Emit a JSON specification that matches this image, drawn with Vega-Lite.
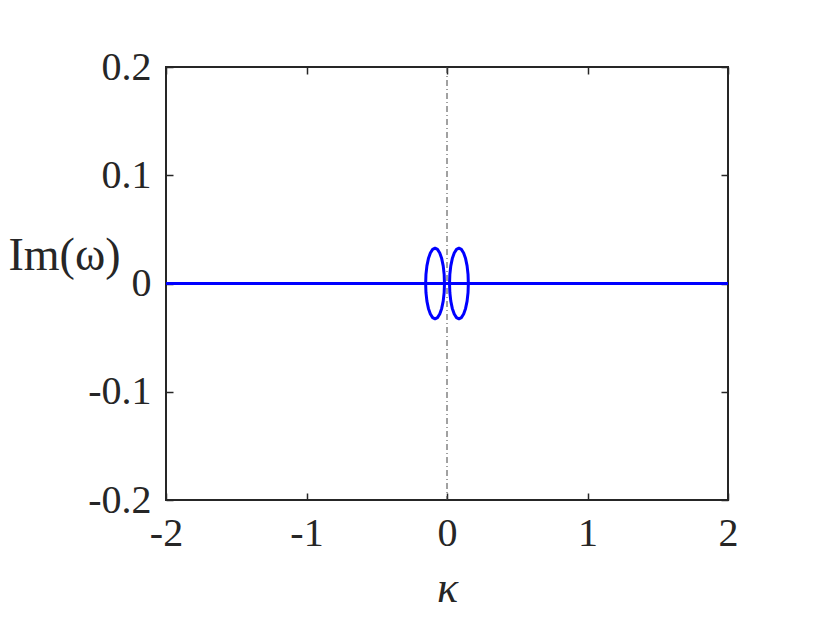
{
  "$schema": "https://vega.github.io/schema/vega-lite/v6.json",
  "autosize": {"type": "none"},
  "width": 562,
  "height": 433,
  "padding": {"left": 166, "top": 67, "right": 102, "bottom": 124},
  "background": "white",
  "config": {
    "view": {"stroke": "#262626", "strokeWidth": 2},
    "axis": {
      "grid": false,
      "domain": false,
      "tickColor": "#262626",
      "tickWidth": 1.5,
      "tickSize": -7,
      "labelFlush": false,
      "labelFont": "Liberation Serif",
      "labelFontSize": 40,
      "labelColor": "#262626",
      "titleFont": "Liberation Serif",
      "titleFontWeight": "normal",
      "titleColor": "#262626"
    }
  },
  "datasets": {
    "curves": [
      {"s": "h", "o": 0, "k": -2, "w": 0},
      {"s": "h", "o": 1, "k": 2, "w": 0},
      {"s": "e1", "o": 0, "k": -0.018, "w": 0},
      {"s": "e1", "o": 1, "k": -0.0203, "w": 0.0085},
      {"s": "e1", "o": 2, "k": -0.027, "w": 0.0163},
      {"s": "e1", "o": 3, "k": -0.0377, "w": 0.023},
      {"s": "e1", "o": 4, "k": -0.0515, "w": 0.0282},
      {"s": "e1", "o": 5, "k": -0.0677, "w": 0.0315},
      {"s": "e1", "o": 6, "k": -0.085, "w": 0.0326},
      {"s": "e1", "o": 7, "k": -0.1023, "w": 0.0315},
      {"s": "e1", "o": 8, "k": -0.1185, "w": 0.0282},
      {"s": "e1", "o": 9, "k": -0.1323, "w": 0.023},
      {"s": "e1", "o": 10, "k": -0.143, "w": 0.0163},
      {"s": "e1", "o": 11, "k": -0.1497, "w": 0.0085},
      {"s": "e1", "o": 12, "k": -0.152, "w": 0},
      {"s": "e1", "o": 13, "k": -0.1497, "w": -0.0085},
      {"s": "e1", "o": 14, "k": -0.143, "w": -0.0163},
      {"s": "e1", "o": 15, "k": -0.1323, "w": -0.023},
      {"s": "e1", "o": 16, "k": -0.1185, "w": -0.0282},
      {"s": "e1", "o": 17, "k": -0.1023, "w": -0.0315},
      {"s": "e1", "o": 18, "k": -0.085, "w": -0.0326},
      {"s": "e1", "o": 19, "k": -0.0677, "w": -0.0315},
      {"s": "e1", "o": 20, "k": -0.0515, "w": -0.0282},
      {"s": "e1", "o": 21, "k": -0.0377, "w": -0.023},
      {"s": "e1", "o": 22, "k": -0.027, "w": -0.0163},
      {"s": "e1", "o": 23, "k": -0.0203, "w": -0.0085},
      {"s": "e1", "o": 24, "k": -0.018, "w": 0},
      {"s": "e2", "o": 0, "k": 0.018, "w": 0},
      {"s": "e2", "o": 1, "k": 0.0203, "w": 0.0085},
      {"s": "e2", "o": 2, "k": 0.027, "w": 0.0163},
      {"s": "e2", "o": 3, "k": 0.0377, "w": 0.023},
      {"s": "e2", "o": 4, "k": 0.0515, "w": 0.0282},
      {"s": "e2", "o": 5, "k": 0.0677, "w": 0.0315},
      {"s": "e2", "o": 6, "k": 0.085, "w": 0.0326},
      {"s": "e2", "o": 7, "k": 0.1023, "w": 0.0315},
      {"s": "e2", "o": 8, "k": 0.1185, "w": 0.0282},
      {"s": "e2", "o": 9, "k": 0.1323, "w": 0.023},
      {"s": "e2", "o": 10, "k": 0.143, "w": 0.0163},
      {"s": "e2", "o": 11, "k": 0.1497, "w": 0.0085},
      {"s": "e2", "o": 12, "k": 0.152, "w": 0},
      {"s": "e2", "o": 13, "k": 0.1497, "w": -0.0085},
      {"s": "e2", "o": 14, "k": 0.143, "w": -0.0163},
      {"s": "e2", "o": 15, "k": 0.1323, "w": -0.023},
      {"s": "e2", "o": 16, "k": 0.1185, "w": -0.0282},
      {"s": "e2", "o": 17, "k": 0.1023, "w": -0.0315},
      {"s": "e2", "o": 18, "k": 0.085, "w": -0.0326},
      {"s": "e2", "o": 19, "k": 0.0677, "w": -0.0315},
      {"s": "e2", "o": 20, "k": 0.0515, "w": -0.0282},
      {"s": "e2", "o": 21, "k": 0.0377, "w": -0.023},
      {"s": "e2", "o": 22, "k": 0.027, "w": -0.0163},
      {"s": "e2", "o": 23, "k": 0.0203, "w": -0.0085},
      {"s": "e2", "o": 24, "k": 0.018, "w": 0}
    ],
    "ref": [{"k": 0}],
    "flat": [{"k": -2, "w": 0}, {"k": 2, "w": 0}]
  },
  "layer": [
    {
      "data": {"name": "ref"},
      "mark": {"type": "rule", "color": "#444444", "strokeWidth": 1, "strokeDash": [6, 3, 1, 3]},
      "encoding": {
        "x": {
          "field": "k", "type": "quantitative",
          "scale": {"domain": [-2, 2], "nice": false, "zero": false},
          "axis": {"orient": "top", "labels": false, "title": null, "values": [-2, -1, 0, 1, 2]}
        }
      }
    },
    {
      "data": {"name": "flat"},
      "mark": {"type": "line", "color": "#0000ff", "strokeWidth": 3, "opacity": 0},
      "encoding": {
        "x": {"field": "k", "type": "quantitative", "axis": null},
        "y": {
          "field": "w", "type": "quantitative",
          "axis": {"orient": "right", "labels": false, "title": null, "values": [-0.2, -0.1, 0, 0.1, 0.2]}
        }
      }
    },
    {
      "data": {"name": "curves"},
      "mark": {"type": "line", "color": "#0000ff", "strokeWidth": 3, "strokeJoin": "round"},
      "encoding": {
        "x": {
          "field": "k", "type": "quantitative",
          "axis": {
            "orient": "bottom", "values": [-2, -1, 0, 1, 2],
            "labelExpr": "toString(datum.value)",
            "labelFont": "Liberation Serif", "labelFontSize": 40,
            "labelPadding": 20,
            "title": "κ", "titleFontSize": 44, "titleFontStyle": "italic",
            "titleY": 88, "titleBaseline": "middle"
          }
        },
        "y": {
          "field": "w", "type": "quantitative",
          "scale": {"domain": [-0.2, 0.2], "nice": false, "zero": false},
          "axis": {
            "orient": "left", "values": [-0.2, -0.1, 0, 0.1, 0.2],
            "labelExpr": "toString(datum.value)",
            "labelFont": "Liberation Serif", "labelFontSize": 40,
            "labelPadding": 22,
            "title": "Im(ω)", "titleFontSize": 46, "titleAngle": 0,
            "titleX": -102, "titleY": 188, "titleAlign": "center", "titleBaseline": "middle"
          }
        },
        "detail": {"field": "s"},
        "order": {"field": "o"}
      }
    }
  ],
  "resolve": {"axis": {"x": "independent", "y": "independent"}}
}
